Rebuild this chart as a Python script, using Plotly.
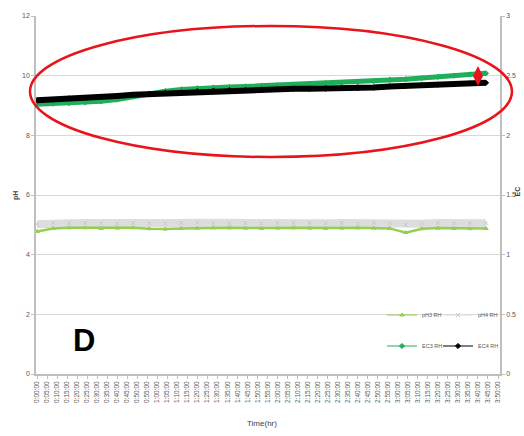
import plotly.graph_objects as go

# ---- data ----
minutes = [0, 8, 16, 24, 32, 40, 48, 56, 64, 72, 80, 88, 96, 104, 112, 120,
           128, 136, 144, 152, 160, 168, 176, 184, 192, 200, 208, 216, 224]

ph3_rh = [4.78, 4.88, 4.90, 4.90, 4.88, 4.89, 4.90, 4.87, 4.86, 4.88, 4.89, 4.90,
          4.90, 4.89, 4.88, 4.89, 4.90, 4.89, 4.88, 4.89, 4.90, 4.89, 4.88, 4.74,
          4.87, 4.89, 4.88, 4.87, 4.88]
ph4_rh = [5.02, 5.06, 5.05, 5.06, 5.05, 5.04, 5.06, 5.05, 5.05, 5.06, 5.07, 5.06,
          5.05, 5.06, 5.05, 5.06, 5.07, 5.06, 5.05, 5.06, 5.05, 5.06, 5.05, 5.00,
          5.04, 5.06, 5.05, 5.06, 5.05]
ec3_rh = [2.26, 2.265, 2.27, 2.275, 2.285, 2.30, 2.325, 2.35, 2.37, 2.385, 2.395,
          2.40, 2.405, 2.41, 2.415, 2.42, 2.425, 2.43, 2.435, 2.44, 2.445, 2.455,
          2.465, 2.47, 2.48, 2.49, 2.50, 2.51, 2.52]
ec4_rh = [2.295, 2.30, 2.31, 2.315, 2.32, 2.33, 2.34, 2.345, 2.355, 2.36, 2.37,
          2.375, 2.38, 2.38, 2.385, 2.385, 2.39, 2.39, 2.39, 2.395, 2.395, 2.40,
          2.41, 2.415, 2.42, 2.425, 2.43, 2.435, 2.44]

tick_minutes = list(range(0, 231, 5))
tick_labels = [f"{m // 60}:{m % 60:02d}:00" for m in tick_minutes]

axis_grey = "#BFBFBF"
text_grey = "#595959"

series = [
    # name, values, color, band width, marker symbol, yaxis, legend
    ("pH4 RH", ph4_rh, "#DDDDDD", 8, "x-thin", "y", "legend2"),
    ("pH3 RH", ph3_rh, "#92D050", 2.5, "triangle-up", "y", "legend"),
    ("EC3 RH", ec3_rh, "#1FAE5A", 5, "diamond", "y2", "legend3"),
    ("EC4 RH", ec4_rh, "#000000", 6, "diamond", "y2", "legend4"),
]

fig = go.Figure()
for name, vals, color, w, sym, yax, leg in series:
    fig.add_trace(go.Scatter(x=minutes, y=vals, name=name, mode="lines",
                             line=dict(color=color, width=w), yaxis=yax,
                             showlegend=False, hoverinfo="skip"))
    mcol = "#C8C8C8" if name == "pH4 RH" else color
    fig.add_trace(go.Scatter(x=minutes, y=vals, name=name, mode="lines+markers",
                             line=dict(color=color, width=1),
                             marker=dict(symbol=sym, size=4, color=mcol,
                                         line=dict(color=mcol, width=1)),
                             yaxis=yax, legend=leg))

L, R, T, B = 36, 24, 16, 62
W, H = 524, 436
pw, ph = W - L - R, H - T - B

def px(x):
    return (x - L) / pw

def py(y):
    return (H - B - y) / ph

fig.add_shape(type="circle", xref="paper", yref="paper",
              x0=px(30), x1=px(512), y0=py(157), y1=py(26),
              line=dict(color="#E8141B", width=2.5), layer="above")
cx, cy = px(478), py(76)
dx, dy = 5 / pw, 10 / ph
fig.add_shape(type="path", xref="paper", yref="paper",
              path=f"M {cx} {cy+dy} L {cx+dx} {cy} L {cx} {cy-dy} L {cx-dx} {cy} Z",
              fillcolor="#E8141B", line=dict(color="#E8141B", width=0), layer="above")

fig.add_annotation(text="<b>D</b>", xref="paper", yref="paper", x=px(71), y=py(360),
                   showarrow=False, font=dict(size=31, color="#000000",
                                               family="Liberation Sans, Arial"))
fig.add_annotation(text="Time(hr)", xref="paper", yref="paper", x=px(262), y=py(430),
                   showarrow=False, font=dict(size=8, color="#404040"))
fig.add_annotation(text="<b>pH</b>", xref="paper", yref="paper", x=px(10), y=py(196),
                   showarrow=False, textangle=-90, font=dict(size=7, color="#404040"))
fig.add_annotation(text="<b>EC</b>", xref="paper", yref="paper", x=px(522), y=py(192),
                   showarrow=False, textangle=-90, font=dict(size=7, color="#404040"))

def leg(xp, yp):
    return dict(orientation="h", xanchor="left", yanchor="middle",
                x=px(xp), y=py(yp),
                font=dict(size=5.5, color=text_grey), bgcolor="rgba(0,0,0,0)",
                itemwidth=30, tracegroupgap=0)

fig.update_layout(
    width=W, height=H,
    margin=dict(l=L, r=R, t=T, b=B, autoexpand=False),
    paper_bgcolor="white", plot_bgcolor="white",
    font=dict(family="Liberation Sans, Arial", size=7, color=text_grey),
    xaxis=dict(range=[-0.5, 231], tickvals=tick_minutes, ticktext=tick_labels,
               tickangle=-90, tickfont=dict(size=6.5, color=text_grey),
               showgrid=False, showline=True, linecolor=axis_grey, linewidth=1.5,
               ticks="outside", ticklen=3, tickcolor=axis_grey, zeroline=False,
               automargin=False),
    yaxis=dict(range=[0, 12], dtick=2, showgrid=True, gridcolor="#D9D9D9",
               showline=True, linecolor=axis_grey, linewidth=1.5, zeroline=False,
               ticks="outside", ticklen=3, tickcolor=axis_grey,
               tickfont=dict(size=7, color=text_grey), automargin=False),
    yaxis2=dict(range=[0, 3], dtick=0.5, overlaying="y", side="right",
                showgrid=False, showline=True, linecolor=axis_grey, linewidth=1.5,
                zeroline=False, ticks="outside", ticklen=3, tickcolor=axis_grey,
                tickfont=dict(size=7, color=text_grey), automargin=False),
    legend=leg(382, 315),
    legend2=leg(438, 315),
    legend3=leg(382, 346),
    legend4=leg(438, 346),
    showlegend=True,
)

fig.write_html("out.html", config={"displayModeBar": False},
               post_script="document.body.style.margin='0';"
                           "document.body.style.overflow='hidden';")
